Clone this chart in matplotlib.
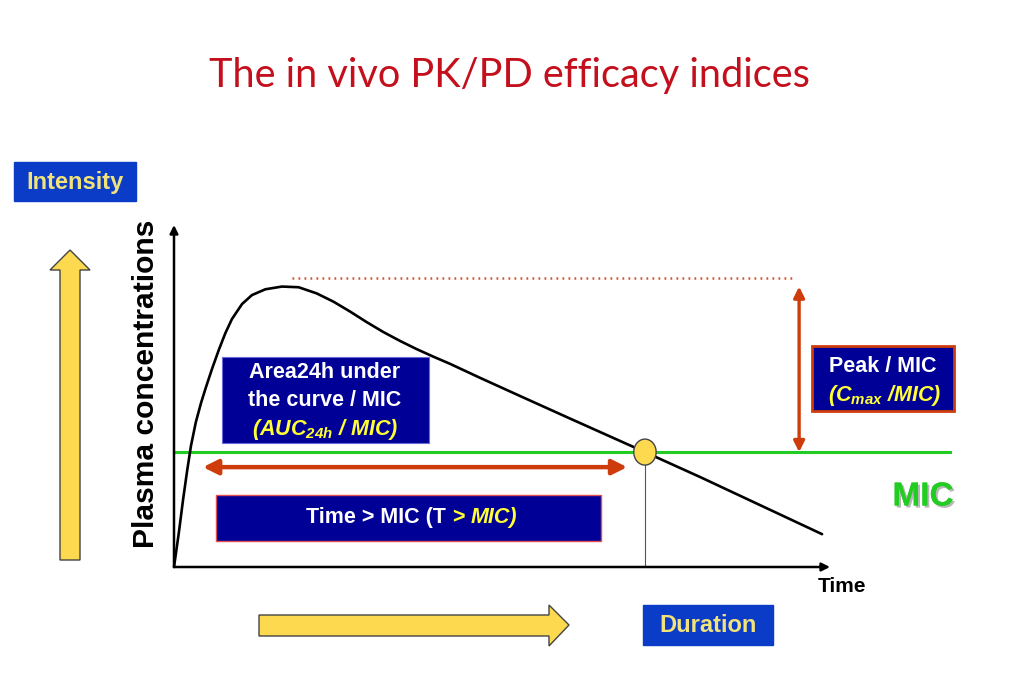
import matplotlib
matplotlib.use("Agg")
import matplotlib.pyplot as plt
from matplotlib.patches import Rectangle, Polygon, Ellipse
import matplotlib.patheffects as pe

plt.rcParams['mathtext.fontset'] = 'custom'
plt.rcParams['mathtext.it'] = 'Liberation Sans:italic:bold'
plt.rcParams['mathtext.rm'] = 'Liberation Sans:italic:bold'
plt.rcParams['mathtext.bf'] = 'Liberation Sans:italic:bold'

# ---- data (arbitrary PK units) ----
time_h = [0, 0.18, 0.33, 0.48, 0.62, 0.80, 0.99, 1.17, 1.39, 1.64, 1.88, 2.12,
          2.49, 2.85, 3.34, 3.95, 4.56, 5.22, 5.83, 6.44, 7.05, 7.66, 8.27,
          8.88, 9.49, 10.10, 11.20, 12.66, 14.49, 17.23, 19.25, 21.44, 23.71]
conc = [0, 1.02, 1.96, 2.81, 3.54, 4.24, 4.80, 5.26, 5.79, 6.35, 6.84, 7.25,
        7.69, 7.95, 8.12, 8.20, 8.18, 8.00, 7.76, 7.47, 7.16, 6.87, 6.61,
        6.37, 6.15, 5.94, 5.53, 5.00, 4.34, 3.36, 2.63, 1.81, 0.96]
mic_level = 3.36
cmax_level = 8.20
peak_guide = 8.45
t_peak_guide = [4.32, 22.72]
t_cross = 17.23
t_arrow = [1.06, 16.58]
y_arrow = 2.92
t_cmax_arrow = 22.87
t_mic_line = [0.0, 28.4]
time_range = [0, 24]
conc_range = [0, 10]

title = "The in vivo PK/PD efficacy indices"

RED_T = '#c3101c'
BLUE = '#0a3cc8'
NAVY = '#000096'
YEL_T = '#f2e27a'
YEL = '#ffff33'
ARROW_RED = '#cf3c0c'
GREEN = '#22cc22'
FILL_Y = '#fcd94e'

fig = plt.figure(figsize=(10.24, 6.83), dpi=100)
ov = fig.add_axes([0, 0, 1, 1])
ov.set_xlim(0, 1024)
ov.set_ylim(683, 0)
ov.axis('off')

W, H = 1024, 683
pa = fig.add_axes([174 / W, (H - 567) / H, 656 / W, 342 / H], zorder=2)
pa.set_xlim(*time_range)
pa.set_ylim(*conc_range)
pa.axis('off')

# title
ov.text(509, 75, title, color=RED_T, fontsize=28.6, family='Lato',
        ha='center', va='center')

SANS = 'Liberation Sans'

def box(x0, y0, x1, y1, fc, ec=None, lw=1.0):
    ov.add_patch(Rectangle((x0, y0), x1 - x0, y1 - y0, facecolor=fc,
                           edgecolor=ec if ec else fc, lw=lw, zorder=3))

# Intensity box
box(14, 162, 136, 201, BLUE)
ov.text(75, 182, "Intensity", color=YEL_T, fontsize=17, family=SANS,
        weight='bold', ha='center', va='center', zorder=4)

# Duration box
box(643, 605, 773, 645, BLUE)
ov.text(708, 626, "Duration", color=YEL_T, fontsize=17, family=SANS,
        weight='bold', ha='center', va='center', zorder=4)

# Yellow arrows
ov.add_patch(Polygon([(60, 560), (80, 560), (80, 270), (90, 270), (70, 250),
                      (50, 270), (60, 270)], closed=True, facecolor=FILL_Y,
                     edgecolor='#444444', lw=1.0, zorder=3))
ov.add_patch(Polygon([(259, 615), (549, 615), (549, 605), (569, 625), (549, 646),
                      (549, 636), (259, 636)], closed=True, facecolor=FILL_Y,
                     edgecolor='#444444', lw=1.0, zorder=3))

# Axis labels
ov.text(146, 384, "Plasma concentrations", rotation=90, fontsize=21.6,
        family=SANS, weight='bold', ha='center', va='center')
ov.text(842, 586, "Time", fontsize=15, family=SANS, weight='bold',
        ha='center', va='center')

# MIC label
ov.text(923, 497, "MIC", fontsize=24, family=SANS, weight='bold', color=GREEN,
        ha='center', va='center',
        path_effects=[pe.withSimplePatchShadow(offset=(1.5, -1.5),
                                               shadow_rgbFace='#888888', alpha=0.6),
                      pe.Normal()])

# Area box
box(222, 357, 429, 443, NAVY, ec='#6a6ad8', lw=0.8)
ov.text(325, 373, "Area24h under", color='white', fontsize=15.5, family=SANS,
        weight='bold', ha='center', va='center', zorder=4)
ov.text(325, 401, "the curve / MIC", color='white', fontsize=15.5, family=SANS,
        weight='bold', ha='center', va='center', zorder=4)
ov.text(325, 430, r"(AUC$_{24h}$ / MIC)", color=YEL, fontsize=15.5, family=SANS,
        weight='bold', style='italic', ha='center', va='center', zorder=4)

# Peak box
box(812, 346, 954, 411, NAVY, ec=ARROW_RED, lw=2.0)
ov.text(883, 366, "Peak / MIC", color='white', fontsize=15.5, family=SANS,
        weight='bold', ha='center', va='center', zorder=4)
ov.text(885, 395, r"(C$_{max}$ /MIC)", color=YEL, fontsize=15.5, family=SANS,
        weight='bold', style='italic', ha='center', va='center', zorder=4)

# Time > MIC box
box(216, 495, 601, 541, NAVY, ec='#e05050', lw=1.0)
ov.text(446, 518, "Time > MIC (T", color='white', fontsize=15.5, family=SANS,
        weight='bold', ha='right', va='center', zorder=4)
ov.text(452, 518, ">", color=YEL, fontsize=15.5, family=SANS,
        weight='bold', ha='left', va='center', zorder=4)
ov.text(471, 518, "MIC)", color=YEL, fontsize=15.5, family=SANS,
        weight='bold', style='italic', ha='left', va='center', zorder=4)

# ---- plot area ----
pa.annotate('', xy=(0, 1.0), xytext=(0, 0), xycoords='axes fraction',
            arrowprops=dict(arrowstyle='-|>', lw=1.8, color='black',
                            mutation_scale=12, shrinkA=0, shrinkB=0),
            annotation_clip=False)
pa.annotate('', xy=(1.0, 0), xytext=(0, 0), xycoords='axes fraction',
            arrowprops=dict(arrowstyle='-|>', lw=1.8, color='black',
                            mutation_scale=12, shrinkA=0, shrinkB=0),
            annotation_clip=False)

# MIC line
pa.plot(t_mic_line, [mic_level, mic_level], color=GREEN, lw=2.2, clip_on=False,
        zorder=2)
# peak guide dotted
pa.plot(t_peak_guide, [peak_guide, peak_guide], color='#d8502c', lw=1.8,
        linestyle=(0, (0.7, 1.7)), clip_on=False, zorder=2)
# concentration curve
pa.plot(time_h, conc, color='black', lw=1.9, clip_on=False, zorder=3,
        solid_capstyle='round', solid_joinstyle='round')
# vertical drop line at crossing
pa.plot([t_cross, t_cross], [0, mic_level], color='#555555', lw=0.8, zorder=2)
# crossing marker
pa.add_patch(Ellipse((t_cross, mic_level), 0.82, 0.76, facecolor=FILL_Y,
                     edgecolor='#444444', lw=1.0, zorder=5))
# T > MIC arrow
pa.annotate('', xy=(t_arrow[1], y_arrow), xytext=(t_arrow[0], y_arrow),
            arrowprops=dict(arrowstyle='<|-|>', lw=3.2, color=ARROW_RED,
                            mutation_scale=22, shrinkA=0, shrinkB=0))
# Cmax arrow
pa.annotate('', xy=(t_cmax_arrow, cmax_level), xytext=(t_cmax_arrow, mic_level),
            arrowprops=dict(arrowstyle='<|-|>', lw=2.4, color=ARROW_RED,
                            mutation_scale=16, shrinkA=0, shrinkB=0),
            annotation_clip=False)

fig.savefig('out.png', dpi=100)
